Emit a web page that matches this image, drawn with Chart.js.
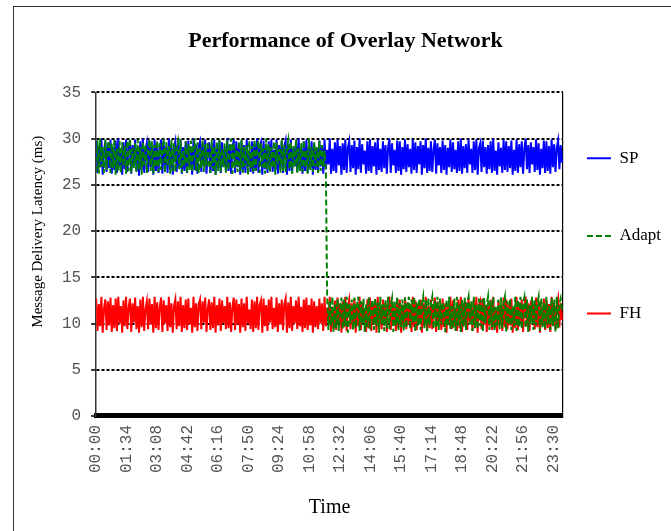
<!DOCTYPE html>
<html>
<head>
<meta charset="utf-8">
<script src="https://cdn.jsdelivr.net/npm/chart.js@4.4.1/dist/chart.umd.min.js"></script>
<style>
  html, body { margin: 0; padding: 0; background: #fff; overflow: hidden; }
  #wrap { position: relative; width: 671px; height: 531px; }
  #frame { position: absolute; left: 13px; top: 6px; width: 700px; height: 560px; border: 1px solid #333; pointer-events: none; }
</style>
</head>
<body>
<div id="wrap">
  <canvas id="chart" width="671" height="531"></canvas>
  <div id="frame"></div>
</div>
<script>
// x tick labels (every 94 minutes)
const tickLabels = ["00:00", "01:34", "03:08", "04:42", "06:16", "07:50", "09:24", "10:58",
  "12:32", "14:06", "15:40", "17:14", "18:48", "20:22", "21:56", "23:30"];
const tickStep = 94;
const dayEnd = 1439;
const sampleStep = 4; // minutes between samples

// SP latency (ms)
const sp = [
  29.8, 26.3, 29.2, 26.9, 30.0, 26.1, 28.6, 29.7, 26.4, 29.5,
  26.8, 29.9, 26.2, 29.1, 26.6, 29.8, 26.3, 30.0, 27.0, 28.9,
  26.1, 29.6, 26.7, 29.9, 26.4, 28.8, 29.8, 26.2, 29.3, 27.1,
  29.9, 26.5, 29.0, 26.0, 29.7, 26.6, 30.0, 26.3, 28.7, 29.5,
  26.4, 29.8, 26.9, 29.2, 26.1, 29.9, 26.5, 29.4, 26.3, 28.9,
  29.9, 26.2, 29.6, 27.0, 29.1, 26.3, 30.0, 26.6, 29.3, 26.1,
  29.0, 29.7, 26.4, 29.5, 26.8, 29.9, 26.2, 29.1, 26.5, 29.7,
  26.3, 29.8, 26.9, 28.8, 26.1, 30.0, 26.6, 29.3, 26.2, 29.2,
  29.7, 26.4, 29.5, 27.1, 29.9, 26.2, 28.7, 29.6, 26.3, 29.4,
  26.5, 29.9, 26.1, 29.1, 26.8, 29.8, 26.3, 29.6, 27.0, 28.9,
  26.4, 30.0, 26.5, 29.4, 26.2, 28.9, 29.9, 26.3, 29.7, 26.9,
  29.2, 26.1, 29.8, 26.6, 29.3, 26.3, 29.9, 27.0, 28.6, 26.4,
  29.7, 26.2, 29.5, 26.5, 30.0, 26.3, 29.1, 29.6, 26.1, 29.8,
  26.7, 29.2, 26.3, 29.7, 27.1, 29.9, 26.4, 28.8, 26.6, 29.9,
  26.2, 29.3, 26.9, 29.7, 26.3, 29.2, 29.8, 26.1, 29.4, 26.5,
  29.9, 26.3, 29.0, 27.0, 29.6, 26.4, 30.0, 26.7, 28.9, 26.2,
  29.7, 26.5, 29.9, 26.3, 29.1, 26.8, 29.7, 26.1, 29.5, 26.6,
  29.0, 26.4, 29.8, 27.0, 29.3, 26.2, 29.9, 26.7, 28.8, 27.2,
  30.0, 26.2, 28.9, 26.5, 29.6, 26.3, 29.9, 27.1, 29.2, 26.1,
  29.5, 26.6, 29.9, 26.3, 29.0, 29.7, 26.4, 29.3, 26.8, 29.8,
  26.1, 29.1, 26.7, 30.0, 26.3, 29.4, 27.2, 28.7, 26.2, 29.7,
  26.5, 29.9, 26.3, 29.2, 27.0, 29.6, 26.1, 29.9, 26.6, 28.9,
  26.4, 29.7, 26.8, 29.3, 26.2, 29.0, 30.0, 26.3, 29.5, 27.1,
  28.8, 26.3, 29.8, 26.5, 29.7, 26.1, 29.1, 26.7, 29.9, 26.4,
  29.4, 26.9, 28.9, 26.2, 29.9, 26.6, 29.6, 26.3, 29.2, 27.2,
  29.7, 26.1, 29.3, 26.8, 30.0, 26.3, 29.0, 26.5, 29.7, 26.4,
  28.7, 29.9, 26.2, 29.5, 27.1, 29.1, 26.3, 29.8, 26.6, 29.3,
  26.1, 29.0, 26.9, 29.9, 26.4, 29.6, 26.7, 28.8, 26.3, 29.7,
  26.5, 30.0, 26.2, 29.2, 26.8, 29.4, 26.3, 29.9, 27.2, 28.9,
  26.3, 29.7, 26.6, 29.9, 26.1, 29.0, 29.5, 26.4, 29.8, 26.9,
  29.1, 26.2, 29.3, 26.7, 29.7, 26.3, 30.0, 26.5, 28.7, 26.1,
  29.6, 27.0, 29.0, 26.3, 29.9, 26.6, 29.7, 26.4, 29.2, 26.8,
  29.8, 26.1, 28.8, 26.5, 29.9, 26.3, 29.4, 26.9, 29.7, 26.2,
  28.9, 30.0, 26.7, 29.3, 26.3, 29.6, 27.2, 29.1, 26.4, 29.9,
  26.6, 29.5, 26.1, 28.9, 26.8, 29.8, 26.3, 29.7, 26.5, 29.2,
  26.2, 29.9, 26.9, 29.4, 26.4, 29.0, 29.8, 26.7, 29.3, 27.4
];

// Adapt latency (ms): tracks the SP level, then switches to the FH level just before noon
const adapt = [
  26.4, 29.8, 26.2, 30.0, 26.9, 29.1, 26.3, 29.9, 26.6, 29.3,
  29.8, 26.3, 29.5, 26.8, 29.9, 26.1, 28.9, 26.5, 29.7, 26.3,
  29.6, 27.0, 29.2, 26.2, 29.8, 26.5, 30.0, 26.3, 29.0, 26.8,
  29.5, 26.4, 29.9, 26.7, 29.1, 26.1, 29.7, 27.1, 29.4, 26.3,
  28.8, 29.9, 26.5, 29.7, 26.2, 29.3, 26.9, 29.8, 26.4, 29.5,
  26.6, 29.0, 30.0, 26.3, 29.6, 27.0, 29.2, 26.2, 29.9, 26.5,
  29.5, 26.4, 29.0, 29.7, 26.7, 29.9, 26.3, 28.8, 27.1, 29.7,
  26.2, 29.4, 26.6, 29.8, 26.4, 29.1, 30.0, 26.5, 29.6, 26.3,
  29.0, 26.8, 29.9, 26.4, 29.4, 27.0, 29.7, 27.2, 26.3, 29.9,
  26.7, 29.2, 26.1, 29.7, 26.5, 29.9, 26.4, 29.0, 26.9, 29.5,
  26.3, 29.8, 26.6, 29.1, 30.0, 26.2, 29.6, 26.8, 28.9, 26.4,
  29.7, 26.5, 29.9, 26.3, 29.1, 27.0, 29.3, 26.1, 29.7, 26.7,
  29.2, 26.4, 29.9, 26.5, 28.8, 29.8, 26.3, 29.5, 26.9, 29.0,
  26.2, 30.0, 26.6, 29.4, 26.4, 29.1, 26.8, 29.7, 26.1, 29.6,
  27.2, 28.9, 26.3, 29.9, 26.5, 29.3, 26.4, 29.0, 29.8, 26.7,
  29.7, 26.2, 29.2, 26.9, 29.9, 26.3, 29.0, 26.5, 29.5, 26.4,
  29.8, 26.8, 28.8, 26.2, 30.0, 26.6, 29.1, 26.4, 29.6, 27.0,
  29.1, 26.3, 29.8, 26.5, 29.3, 26.9, 28.7, 26.6, 12.9, 9.3,
  12.5, 9.8, 12.9, 9.1, 12.2, 9.5, 12.7, 9.2, 11.9, 12.8,
  9.4, 12.6, 9.7, 12.9, 9.0, 12.1, 10.0, 12.6, 9.3, 12.8,
  9.5, 12.0, 12.9, 9.2, 12.4, 9.8, 12.7, 9.1, 12.2, 9.6,
  12.9, 9.4, 11.8, 12.6, 9.3, 12.8, 9.7, 12.3, 9.0, 12.9,
  9.9, 12.1, 9.2, 12.6, 9.5, 12.9, 9.4, 11.9, 12.7, 9.1,
  12.5, 9.8, 12.9, 9.3, 12.2, 9.6, 12.6, 9.2, 12.8, 9.5,
  12.0, 12.9, 9.4, 12.6, 10.0, 12.9, 9.1, 12.3, 9.7, 12.7,
  9.3, 12.1, 12.9, 9.5, 12.6, 9.2, 12.8, 9.8, 12.2, 12.9,
  9.4, 12.5, 9.6, 12.9, 9.3, 12.7, 9.9, 12.3, 11.7, 9.1,
  12.6, 9.7, 12.9, 9.4, 11.9, 9.5, 12.7, 9.2, 12.9, 9.8,
  12.1, 9.1, 12.6, 9.6, 12.8, 9.3, 12.2, 12.9, 9.9, 12.4,
  9.2, 12.9, 9.5, 12.0, 9.4, 12.7, 9.7, 12.6, 9.1, 12.8,
  10.0, 12.1, 12.9, 9.3, 12.5, 9.6, 12.9, 9.2, 11.8, 9.8,
  12.6, 9.4, 12.8, 9.5, 12.2, 12.9, 9.1, 12.4, 9.9, 12.7,
  9.3, 11.9, 9.7, 12.9, 9.2, 12.6, 9.6, 12.9, 9.4, 12.1,
  12.8, 9.5, 12.6, 9.1, 12.0, 10.0, 12.9, 9.3, 12.5, 9.8,
  12.2, 12.9, 9.2, 12.7, 9.6, 12.3, 9.4, 12.9, 9.9, 11.9,
  9.3, 12.8, 9.7, 12.6, 9.1, 12.9, 9.5, 12.1, 12.7, 11.4
];

// FH latency (ms)
const fh = [
  12.7, 9.2, 12.1, 9.7, 12.9, 9.0, 11.6, 12.6, 9.3, 12.4,
  9.8, 12.8, 9.1, 12.0, 9.5, 12.7, 9.2, 12.9, 10.0, 11.9,
  9.0, 12.5, 9.7, 12.9, 9.4, 11.7, 12.7, 9.1, 12.2, 10.1,
  12.8, 9.4, 11.9, 9.0, 12.6, 9.6, 12.9, 9.2, 11.6, 12.4,
  9.4, 12.7, 9.9, 12.1, 9.0, 12.9, 9.5, 12.3, 9.3, 11.8,
  12.8, 9.1, 12.5, 10.0, 12.0, 9.2, 12.9, 9.6, 12.2, 9.0,
  11.9, 12.6, 9.4, 12.4, 9.7, 12.9, 9.1, 12.0, 9.5, 12.6,
  9.3, 12.7, 9.9, 11.7, 9.0, 12.9, 9.6, 12.2, 9.2, 12.1,
  12.6, 9.4, 12.4, 10.1, 12.8, 9.1, 11.6, 12.6, 9.3, 12.3,
  9.5, 12.9, 9.0, 12.0, 9.8, 12.7, 9.2, 12.5, 10.0, 11.9,
  9.4, 12.9, 9.5, 12.3, 9.1, 11.8, 12.8, 9.3, 12.6, 9.9,
  12.1, 9.0, 12.7, 9.6, 12.2, 9.2, 12.9, 10.0, 11.5, 9.4,
  12.6, 9.1, 12.4, 9.5, 12.9, 9.3, 12.0, 12.5, 9.0, 12.7,
  9.7, 12.0, 9.2, 12.6, 10.1, 12.9, 9.4, 11.7, 9.6, 12.8,
  9.1, 12.2, 9.9, 12.6, 9.3, 12.1, 12.7, 9.0, 12.3, 9.5,
  12.9, 9.2, 11.9, 10.0, 12.5, 9.4, 12.9, 9.7, 11.8, 9.1,
  12.6, 9.5, 12.8, 9.3, 12.0, 9.8, 12.7, 9.0, 12.4, 9.6,
  11.9, 9.4, 12.7, 10.0, 12.2, 9.2, 12.9, 9.7, 11.7, 10.2,
  12.9, 9.1, 11.8, 9.5, 12.5, 9.3, 12.8, 10.1, 12.1, 9.0,
  12.4, 9.6, 12.9, 9.2, 11.9, 12.6, 9.4, 12.2, 9.8, 12.7,
  9.0, 12.0, 9.7, 12.9, 9.3, 12.3, 10.2, 11.6, 9.1, 12.6,
  9.5, 12.8, 9.2, 12.1, 10.0, 12.5, 9.0, 12.9, 9.6, 11.8,
  9.4, 12.6, 9.8, 12.2, 9.1, 11.9, 12.9, 9.3, 12.4, 10.1,
  11.7, 9.2, 12.7, 9.5, 12.6, 9.0, 12.0, 9.7, 12.8, 9.4,
  12.3, 9.9, 11.8, 9.1, 12.9, 9.6, 12.5, 9.3, 12.1, 10.2,
  12.6, 9.0, 12.2, 9.8, 12.9, 9.2, 11.9, 9.5, 12.6, 9.4,
  11.6, 12.8, 9.1, 12.4, 10.1, 12.0, 9.3, 12.7, 9.6, 12.2,
  9.0, 11.9, 9.9, 12.9, 9.4, 12.5, 9.7, 11.7, 9.2, 12.6,
  9.5, 12.9, 9.1, 12.1, 9.8, 12.3, 9.3, 12.8, 10.2, 11.8,
  9.2, 12.6, 9.6, 12.9, 9.0, 11.9, 12.4, 9.4, 12.7, 9.9,
  12.0, 9.1, 12.2, 9.7, 12.6, 9.3, 12.9, 9.5, 11.6, 9.0,
  12.5, 10.0, 11.9, 9.2, 12.8, 9.6, 12.6, 9.4, 12.1, 9.8,
  12.7, 9.0, 11.7, 9.5, 12.9, 9.3, 12.3, 9.9, 12.6, 9.1,
  11.8, 12.9, 9.7, 12.2, 9.2, 12.5, 10.2, 12.0, 9.4, 12.8,
  9.6, 12.4, 9.0, 11.8, 9.8, 12.7, 9.3, 12.6, 9.5, 12.1,
  9.1, 12.9, 9.9, 12.3, 9.4, 11.9, 12.7, 9.6, 12.2, 10.4
];

const minutes = sp.map((_, i) => i * sampleStep);
const toPoints = arr => arr.map((v, i) => ({ x: minutes[i], y: v }));

const serif = 'Liberation Serif, Times New Roman, serif';
const mono = 'Liberation Mono, Courier New, monospace';
const nb = '\u00a0';

new Chart(document.getElementById('chart'), {
  type: 'line',
  data: {
    datasets: [
      { label: 'SP', data: toPoints(sp), borderColor: '#0000ff', backgroundColor: '#0000ff', borderWidth: 2, order: 1 },
      { label: 'Adapt', data: toPoints(adapt), borderColor: '#008000', backgroundColor: '#008000', borderWidth: 2, borderDash: [6, 3], order: 0 },
      { label: 'FH', data: toPoints(fh), borderColor: '#ff0000', backgroundColor: '#ff0000', borderWidth: 2, order: 2 }
    ]
  },
  options: {
    responsive: false,
    animation: false,
    layout: { padding: { left: 20, right: 0, top: 0, bottom: 7 } },
    elements: {
      line: { tension: 0 },
      point: { radius: 0 }
    },
    plugins: {
      title: {
        display: true,
        text: 'Performance of Overlay Network',
        color: '#000',
        font: { family: serif, size: 22, weight: 'bold' },
        padding: { top: 28, bottom: 38 }
      },
      legend: {
        position: 'right',
        fullSize: false,
        labels: {
          usePointStyle: true,
          pointStyle: 'line',
          pointStyleWidth: 24,
          padding: 24,
          color: '#000',
          font: { family: serif, size: 17, lineHeight: 3.15 },
          generateLabels: chart => Chart.defaults.plugins.legend.labels.generateLabels(chart).map(item => {
            const ds = chart.data.datasets[item.datasetIndex];
            return Object.assign(item, { text: [item.text], lineWidth: 2, lineDash: ds.borderDash || [], strokeStyle: ds.borderColor });
          }),
          sort: (a, b) => a.datasetIndex - b.datasetIndex
        }
      },
      tooltip: { enabled: false }
    },
    scales: {
      x: {
        type: 'linear',
        min: 0,
        max: dayEnd,
        afterBuildTicks: axis => {
          axis.ticks = tickLabels.map((_, i) => ({ value: i * tickStep })).concat([{ value: dayEnd }]);
        },
        ticks: {
          autoSkip: false,
          minRotation: 90,
          maxRotation: 90,
          padding: 9,
          color: '#555',
          font: { family: mono, size: 16 },
          callback: (v, i) => tickLabels[i] || ''
        },
        grid: {
          drawTicks: false,
          lineWidth: 1.2,
          color: c => (c.tick && c.tick.value === dayEnd ? '#000' : 'rgba(0,0,0,0)')
        },
        border: { color: '#000', width: 5 },
        title: { display: true, text: 'Time', color: '#000', font: { family: serif, size: 20 }, padding: { top: 14, bottom: 4 } }
      },
      y: {
        min: 0,
        max: 35,
        ticks: { stepSize: 5, color: '#555', font: { family: mono, size: 16 }, padding: 10 },
        grid: { color: '#000', lineWidth: 2, tickLength: 5, tickColor: '#333' },
        border: { color: '#333', width: 1.5, dash: [3, 2] },
        title: {
          display: true,
          text: nb.repeat(12) + 'Message Delivery Latency (ms)',
          color: '#000',
          font: { family: serif, size: 15 },
          padding: { top: 9, bottom: 5 }
        }
      }
    }
  }
});
</script>
</body>
</html>
